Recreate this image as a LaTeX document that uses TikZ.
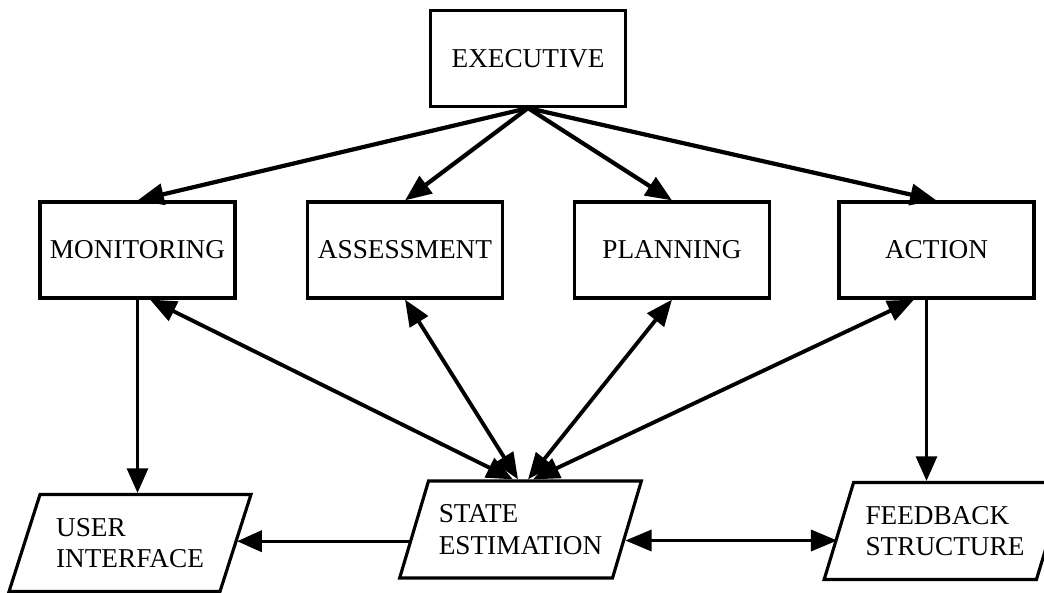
\documentclass[tikz,border=0pt]{standalone}
\usepackage{fontspec}
\setmainfont{Liberation Serif}
\usetikzlibrary{arrows.meta,shapes.geometric}

\begin{document}
\begin{tikzpicture}[
  box/.style={draw, line width=1.8pt, minimum width=3.9cm, minimum height=1.92cm,
    font=\fontsize{15.5}{18}\selectfont},
  slant/.style={draw, line width=1.8pt, trapezium, trapezium left angle=66,
    trapezium right angle=114, trapezium stretches=true, minimum width=4.84cm,
    minimum height=1.94cm, align=left, font=\fontsize{15.5}{18}\selectfont},
  cmdarrow/.style={line width=2.4pt, -{Triangle[length=15pt,width=12pt]}},
  linkarrow/.style={line width=2.2pt, {Triangle[length=15pt,width=12pt]}-{Triangle[length=15pt,width=12pt]}},
  flowarrow/.style={line width=1.6pt, -{Triangle[length=14pt,width=12pt]}}
]
  \useasboundingbox (0,0) rectangle (20.88,11.84);

  % Top level
  \node[box] (exec) at (10.56,10.67) {EXECUTIVE};

  % Middle row of functions
  \node[box] (mon) at (2.75,6.84) {MONITORING};
  \node[box] (asmt) at (8.10,6.84) {ASSESSMENT};
  \node[box] (plan) at (13.44,6.84) {PLANNING};
  \node[box] (act) at (18.73,6.84) {ACTION};

  % Bottom row
  \node[slant] (user) at (2.60,0.98) {USER\\INTERFACE};
  \node[slant] (state) at (10.41,1.25) {STATE\\ESTIMATION};
  \node[slant] (fb) at (18.90,1.22) {FEEDBACK\\STRUCTURE};

  % Executive to functions
  \foreach \dest in {mon,asmt,plan,act}
    \draw[cmdarrow] (exec.south) -- (\dest.north);

  % Functions and state estimation
  \draw[linkarrow] ([xshift=-0.15cm]state.north) -- ([xshift=0.25cm]mon.south);
  \draw[linkarrow] ([xshift=-0.05cm]state.north) -- (asmt.south);
  \draw[linkarrow] ([xshift=0.15cm]state.north) -- (plan.south);
  \draw[linkarrow] ([xshift=0.25cm]state.north) -- ([xshift=-0.45cm]act.south);

  % Downward flows
  \coordinate (monout) at (mon.south);
  \coordinate (actout) at ([xshift=-0.2cm]act.south);
  \draw[flowarrow] (monout) -- (monout |- user.north);
  \draw[flowarrow] (actout) -- (actout |- fb.north);

  % Bottom connections
  \draw[flowarrow, line width=1.9pt] (state.186) -- (state.186 -| user.east);
  \draw[linkarrow, line width=1.9pt] (state.-6) -- (state.-6 -| fb.west);
\end{tikzpicture}
\end{document}
